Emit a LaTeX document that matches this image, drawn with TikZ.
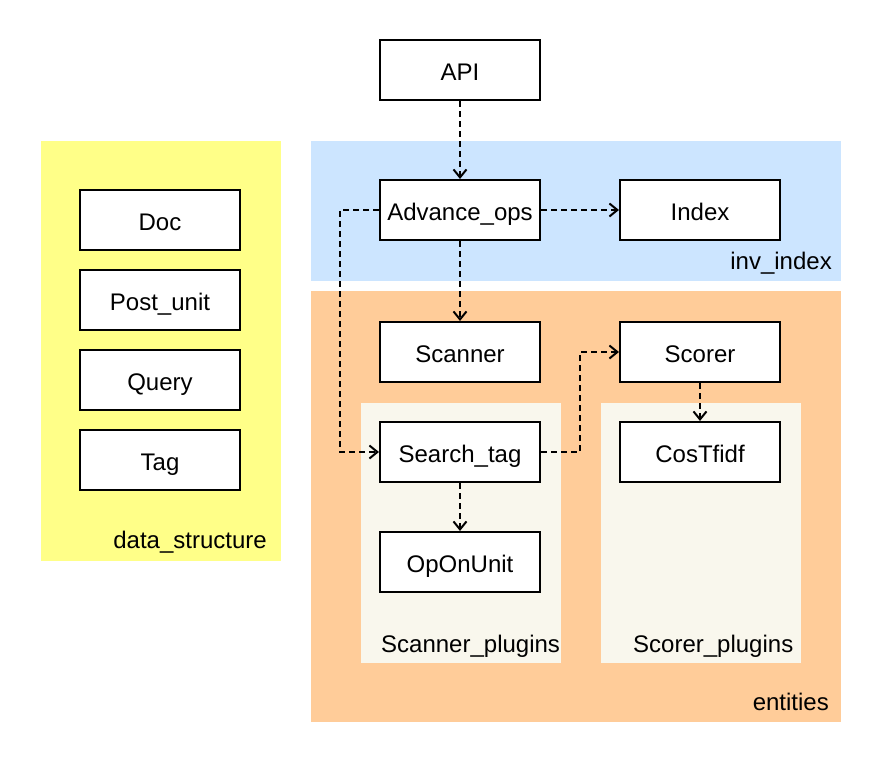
\documentclass[tikz,border=0pt]{standalone}
\usepackage{fontspec}
\setmainfont{Liberation Sans}
\usetikzlibrary{arrows.meta}
\definecolor{dsyellow}{HTML}{FFFF88}
\definecolor{invblue}{HTML}{CCE5FF}
\definecolor{entorange}{HTML}{FFCC99}
\definecolor{plugcream}{HTML}{F9F7ED}
\newcommand{\boxfont}{\fontsize{24}{29}\selectfont}
\begin{document}
\begin{tikzpicture}[x=1pt,y=-1pt,
    >={Straight Barb[length=8pt,width=13pt]},
    box/.style={draw,line width=2pt,fill=white,minimum width=160pt,minimum height=60pt,
      inner sep=0pt,text height=22pt,text depth=2pt,font=\boxfont},
    grouplabel/.style={inner sep=0pt,font=\boxfont},
    link/.style={->,line width=2pt,dash pattern=on 6pt off 4pt}]
  \useasboundingbox (0,0) rectangle (884,766);
  \fill[white] (0,0) rectangle (884,766);
  % groups
  \fill[dsyellow] (41,141) rectangle (281,561);
  \fill[invblue] (311,141) rectangle (841,281);
  \fill[entorange] (311,291) rectangle (841,722);
  \fill[plugcream] (361,403) rectangle (561,663);
  \fill[plugcream] (601,403) rectangle (801,663);
  \node[grouplabel,anchor=base east] (ds) at (267,548) {data\_structure};
  \node[grouplabel,anchor=base east] (inv) at (832,269) {inv\_index};
  \node[grouplabel,anchor=base east] (ent) at (829,710) {entities};
  \node[grouplabel,anchor=base west] (scanplug) at (381,652) {Scanner\_plugins};
  \node[grouplabel,anchor=base west] (scoreplug) at (633,652) {Scorer\_plugins};
  % boxes
  \node[box] (Doc) at (160,220) {Doc};
  \node[box] (Post) at (160,300) {Post\_unit};
  \node[box] (Query) at (160,380) {Query};
  \node[box] (Tag) at (160,460) {Tag};
  \node[box] (API) at (460,70) {API};
  \node[box] (Adv) at (460,210) {Advance\_ops};
  \node[box] (Index) at (700,210) {Index};
  \node[box] (Scanner) at (460,352) {Scanner};
  \node[box] (Scorer) at (700,352) {Scorer};
  \node[box] (Search) at (460,452) {Search\_tag};
  \node[box] (Cos) at (700,452) {CosTfidf};
  \node[box] (Op) at (460,562) {OpOnUnit};
  % links
  \coordinate (ltrack) at (340,210);
  \coordinate (rtrack) at (580,452);
  \draw[link] (API) -- (Adv);
  \draw[link] (Adv) -- (Index);
  \draw[link] (Adv) -- (Scanner);
  \draw[link] (Adv.west) -- (ltrack) |- (Search.west);
  \draw[link] (Search.east) -- (rtrack) |- (Scorer.west);
  \draw[link] (Scorer) -- (Cos);
  \draw[link] (Search) -- (Op);
\end{tikzpicture}
\end{document}
